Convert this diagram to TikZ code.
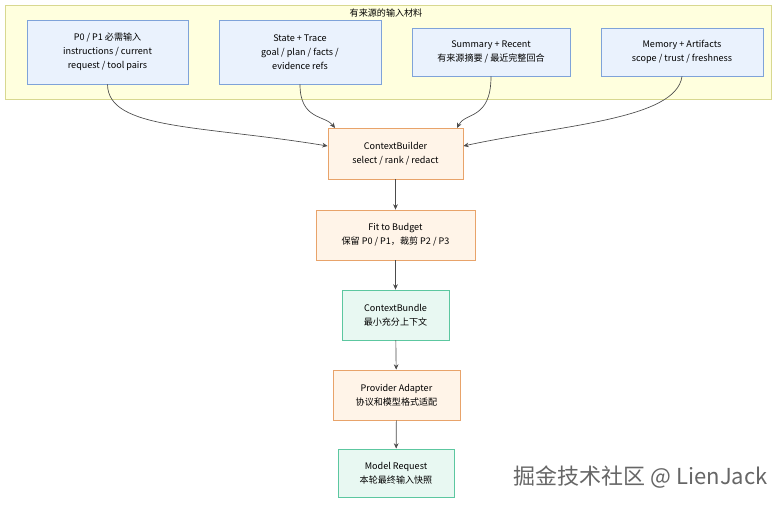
\documentclass[tikz,border=0pt]{standalone}
\usepackage{fontspec}
\setmainfont{Noto Sans CJK SC}
\usetikzlibrary{arrows.meta}
\definecolor{grpfill}{HTML}{FFFFDE}
\definecolor{grpdraw}{HTML}{D8D890}
\definecolor{srcfill}{HTML}{EAF2FD}
\definecolor{srcdraw}{HTML}{7FA3D9}
\definecolor{procfill}{HTML}{FFF4E8}
\definecolor{procdraw}{HTML}{E8A36A}
\definecolor{resfill}{HTML}{E8F8F2}
\definecolor{resdraw}{HTML}{5CC7A0}
\tikzset{
  box/.style={draw,line width=.6pt,align=center,inner sep=0pt,font=\fontsize{6.8}{10.5}\selectfont},
  src/.style={box,fill=srcfill,draw=srcdraw},
  proc/.style={box,fill=procfill,draw=procdraw},
  res/.style={box,fill=resfill,draw=resdraw},
  flow/.style={-{Stealth[length=4pt,width=3.5pt]},draw=black!70,line width=.5pt}
}
\newcommand{\boxat}[6]{% style, name, x1, y1, x2, y2
  \node[#1,minimum width={0.75pt*(#5-#3)},minimum height={0.75pt*(#6-#4)}] (#2) at ({(#3+#5)/2},{(#4+#6)/2})}
\begin{document}
\begin{tikzpicture}[x=0.75pt,y=-0.75pt]
  \useasboundingbox (0,0) rectangle (784,508);
  \fill[white] (0,0) rectangle (784,508);

  % input group
  \draw[fill=grpfill,draw=grpdraw,line width=.6pt] (5,5) rectangle (771,99);
  \node[font=\fontsize{6.8}{8}\selectfont] (grp) at (386,13) {有来源的输入材料};

  \boxat{src}{req}{27}{20}{188}{84} {P0 / P1 必需输入\\instructions / current\\request / tool pairs};
  \boxat{src}{state}{219}{20}{381}{84} {State + Trace\\goal / plan / facts /\\evidence refs};
  \boxat{src}{summary}{412}{28}{570}{76} {Summary + Recent\\有来源摘要 / 最近完整回合};
  \boxat{src}{memory}{601}{28}{763}{76} {Memory + Artifacts\\scope / trust / freshness};

  % pipeline
  \boxat{proc}{builder}{328}{128}{463}{179} {ContextBuilder\\select / rank / redact};
  \boxat{proc}{budget}{316}{210}{475}{260} {Fit to Budget\\保留 P0 / P1，裁剪 P2 / P3};
  \boxat{res}{bundle}{342}{290}{449}{340} {ContextBundle\\最小充分上下文};
  \boxat{proc}{adapter}{333}{370}{460}{420} {Provider Adapter\\协议和模型格式适配};
  \boxat{res}{request}{338}{449}{454}{497} {Model Request\\本轮最终输入快照};

  \draw[flow] (req.south) .. controls (108,130) and (200,125) .. (builder.west|-0,146);
  \draw[flow] (state.south) .. controls (300,120) and (325,115) .. (335,128);
  \draw[flow] (summary.south) .. controls (491,120) and (465,112) .. (457,128);
  \draw[flow] (memory.south) .. controls (676,120) and (560,125) .. (builder.east|-0,146);
  \draw[flow] (builder) -- (budget);
  \draw[flow] (budget) -- (bundle);
  \draw[flow] (bundle) -- (adapter);
  \draw[flow] (adapter) -- (request);

  \node[text=black!60,font=\fontsize{16.5}{19}\selectfont,anchor=east,inner sep=0pt] (mark) at (768,477) {掘金技术社区 @ LienJack};
\end{tikzpicture}
\end{document}
